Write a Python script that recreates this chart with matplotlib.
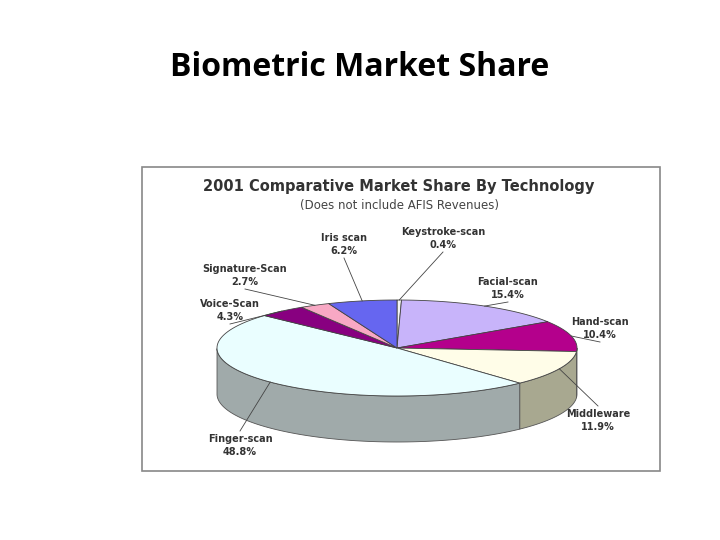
import numpy as np
import matplotlib
matplotlib.use("Agg")
import matplotlib.pyplot as plt
from matplotlib.patches import Polygon, Rectangle

labels = ["Keystroke-scan", "Facial-scan", "Hand-scan", "Middleware", "Finger-scan", "Voice-Scan", "Signature-Scan", "Iris scan"]
shares = [0.4, 15.4, 10.4, 11.9, 48.8, 4.3, 2.7, 6.2]
top_colors = ["#f4f4f4", "#c8b4fa", "#b4008c", "#fffde8", "#eafeff", "#880080", "#f8a8c4", "#6666f0"]
side_colors = ["#c0c0c0", "#9c8cc4", "#80006a", "#a8a890", "#a0aaaa", "#600060", "#c080a0", "#4848b0"]
label_pos = [(443, 238, "center"), (508, 288, "center"), (600, 328, "center"), (598, 420, "center"),
             (240, 445, "center"), (230, 310, "center"), (245, 275, "center"), (344, 244, "center")]
anchor_frac = [0.5, 0.5, 0.5, 0.5, 0.5, 0.5, 0.5, 0.5]

fig = plt.figure(figsize=(7.2, 5.4), dpi=100)
ax = fig.add_axes([0, 0, 1, 1])
ax.set_xlim(0, 720); ax.set_ylim(540, 0); ax.axis("off")

fig.text(0.5, 1 - 68/540, "Biometric Market Share", ha="center", va="center", fontsize=23, fontweight="bold", family="Open Sans")
ax.add_patch(Rectangle((142, 167), 518, 304, fill=False, ec="#888888", lw=1.2))
ax.text(399, 187, "2001 Comparative Market Share By Technology", ha="center", va="center", fontsize=10.5, fontweight="bold", color="#333333")
ax.text(399, 206, "(Does not include AFIS Revenues)", ha="center", va="center", fontsize=8.5, color="#444444")

cx, cy, rx, ry, depth = 397, 348, 180, 48, 46
def pt(t, dz=0):
    return (cx + rx*np.cos(t), cy - ry*np.sin(t) + dz)

total = sum(shares)
start = np.pi/2
angles = []
for s in shares:
    end = start - 2*np.pi*s/total
    angles.append((start, end))
    start = end

# sides (front: sin<0)
for (a0, a1), sc in zip(angles, side_colors):
    ts = np.linspace(a0, a1, 200)
    ts = ts[np.sin(ts) <= 0.0001]
    if len(ts) < 2:
        continue
    upper = [pt(t) for t in ts]
    lower = [pt(t, depth) for t in ts[::-1]]
    ax.add_patch(Polygon(upper + lower, closed=True, fc=sc, ec="#555555", lw=0.6))
# tops
for (a0, a1), tc in zip(angles, top_colors):
    ts = np.linspace(a0, a1, 200)
    verts = [(cx, cy)] + [pt(t) for t in ts]
    ax.add_patch(Polygon(verts, closed=True, fc=tc, ec="#444444", lw=0.6))

for (a0, a1), lab, s, (lx, ly, ha) in zip(angles, labels, shares, label_pos):
    am = (a0 + a1) / 2
    ax.text(lx, ly - 6, lab, ha=ha, va="center", fontsize=7, fontweight="bold", color="#333333")
    ax.text(lx, ly + 7, f"{s}%", ha=ha, va="center", fontsize=7, fontweight="bold", color="#333333")
    ex, ey = pt(am)
    ax.plot([lx, ex], [ly + 14 if ly < ey else ly - 14, ey], color="#444444", lw=0.6)

fig.savefig("out.png", dpi=100)
